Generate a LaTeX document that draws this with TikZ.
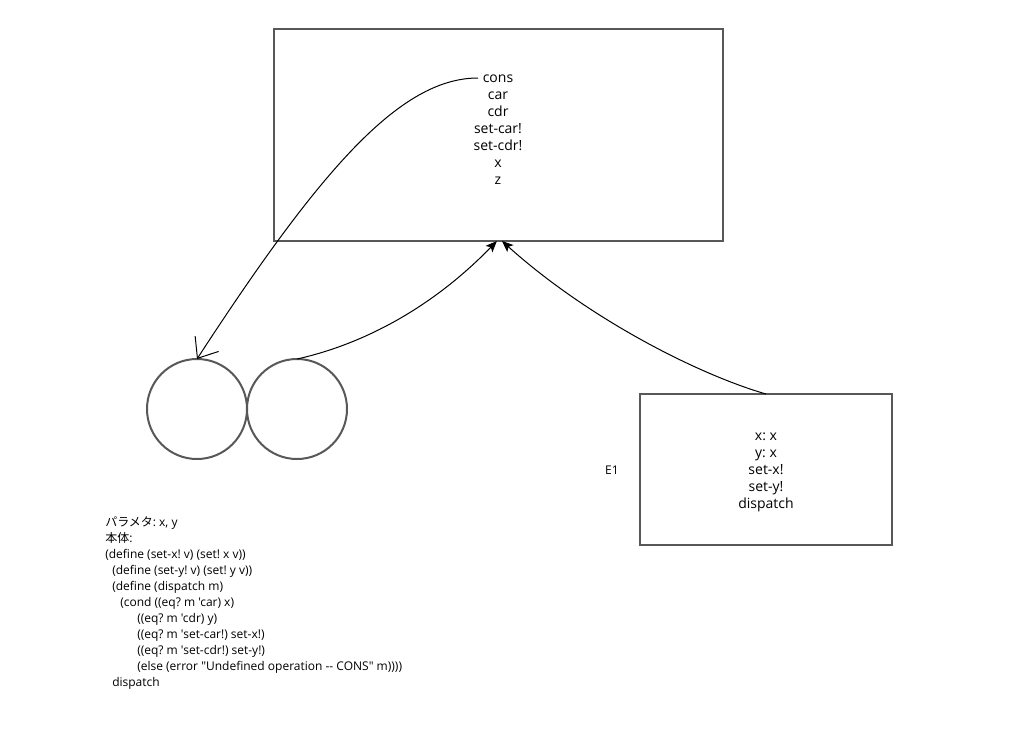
\documentclass[tikz,border=0pt]{standalone}
\usepackage{fontspec}
\setmainfont{Open Sans}
\newfontfamily\codefont{Open Sans}[Ligatures=TeXOff]
\newfontfamily\cjk{Noto Sans CJK JP}
\usetikzlibrary{arrows.meta}
\definecolor{edgegray}{RGB}{88,88,88}
\tikzset{
  framebox/.style={draw=edgegray, line width=1.5pt, inner sep=0pt, outer sep=0pt, anchor=north west},
  ring/.style={circle, draw=edgegray, line width=1.5pt, inner sep=0pt, outer sep=0pt, minimum size=75pt},
  boxtext/.style={align=center, font=\frenchspacing\fontsize{10.5}{12.75}\selectfont, inner sep=0pt},
  codetext/.style={align=left, font=\frenchspacing\codefont\fontsize{9}{12}\selectfont, inner sep=0pt, anchor=north west},
  link/.style={line width=0.75pt, black},
  fillhead/.style={-{Stealth[length=8.5pt,width=7pt,inset=2pt]}},
  barbhead/.style={-{Straight Barb[length=13pt,width=21pt,line width=0.75pt]}}
}
\begin{document}
\begin{tikzpicture}[x=0.75pt,y=-0.75pt]
\useasboundingbox (0,0) rectangle (1015,736);
% frames
\node[framebox, minimum width=336.75pt, minimum height=159pt] (top) at (274,29) {};
\node[framebox, minimum width=189pt, minimum height=113.25pt] (env) at (640,394) {};
\node[ring] (c1) at (197,409) {};
\node[ring] (c2) at (297,409) {};
% texts
\node[boxtext] (toptext) at (498,130) {cons\\car\\cdr\\set-car!\\set-cdr!\\x\\z};
\coordinate (consL) at (478,78);
\node[boxtext] (envtext) at (766,472) {x: x\\y: x\\set-x!\\set-y!\\dispatch};
\node[font=\fontsize{9}{12}\selectfont, inner sep=0pt] (e1) at (612,470) {E1};
\node[codetext] (code) at (105,516) {%
{\cjk パラメタ}: x, y\\
{\cjk 本体}:\\
(define (set-x! v) (set! x v))\\
\hspace*{5.25pt}(define (set-y! v) (set! y v))\\
\hspace*{5.25pt}(define (dispatch m)\\
\hspace*{11.25pt}(cond ((eq? m 'car) x)\\
\hspace*{24pt}((eq? m 'cdr) y)\\
\hspace*{24pt}((eq? m 'set-car!) set-x!)\\
\hspace*{24pt}((eq? m 'set-cdr!) set-y!)\\
\hspace*{24pt}(else (error "Undefined operation -- CONS" m))))\\
\hspace*{5.25pt}dispatch};
% connectors
\draw[link, barbhead] (consL) .. controls (400,78) and (320,170) .. (c1.north);
\draw[link, fillhead] (c2.north) .. controls (360,345) and (430,310) .. ([xshift=-1.2pt]top.south);
\draw[link, fillhead] (env.north) .. controls (700,375) and (590,320) .. ([xshift=2.6pt]top.south);
\end{tikzpicture}
\end{document}
